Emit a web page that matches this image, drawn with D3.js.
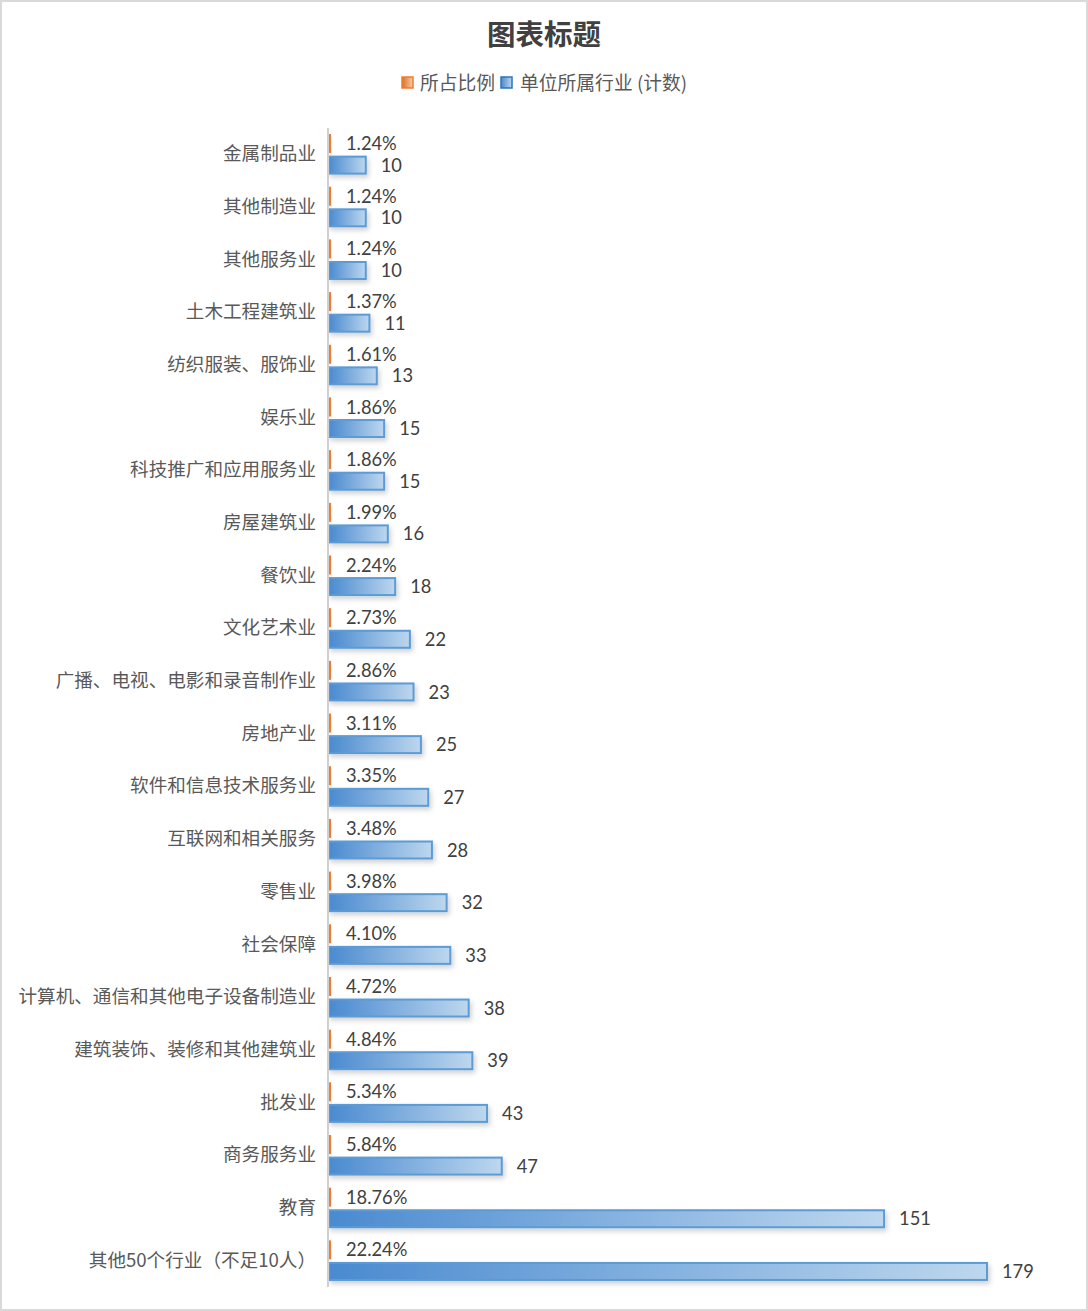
<!DOCTYPE html>
<html><head><meta charset="utf-8">
<script src="https://cdn.jsdelivr.net/npm/d3@7/dist/d3.min.js"></script>
<style>
html,body{margin:0;padding:0;background:#fff;}
svg{display:block;}
</style></head>
<body><div id="chart"></div>
<script>
const categories = ["金属制品业","其他制造业","其他服务业","土木工程建筑业","纺织服装、服饰业","娱乐业","科技推广和应用服务业","房屋建筑业","餐饮业","文化艺术业","广播、电视、电影和录音制作业","房地产业","软件和信息技术服务业","互联网和相关服务","零售业","社会保障","计算机、通信和其他电子设备制造业","建筑装饰、装修和其他建筑业","批发业","商务服务业","教育","其他50个行业（不足10人）"];
const counts = [10,10,10,11,13,15,15,16,18,22,23,25,27,28,32,33,38,39,43,47,151,179];
const shares = [0.0124,0.0124,0.0124,0.0137,0.0161,0.0186,0.0186,0.0199,0.0224,0.0273,0.0286,0.0311,0.0335,0.0348,0.0398,0.0410,0.0472,0.0484,0.0534,0.0584,0.1876,0.2224];
const seriesNames = ["所占比例","单位所属行业 (计数)"];
const title = "图表标题";

const W = 1088, H = 1311;
const svg = d3.select("#chart").append("svg").attr("width", W).attr("height", H);
const defs = svg.append("defs");
const gB = defs.append("linearGradient").attr("id","gB").attr("x1","0").attr("x2","1").attr("y1","0").attr("y2","0");
gB.append("stop").attr("offset","0").attr("stop-color","#4a8ad0");
gB.append("stop").attr("offset","1").attr("stop-color","#bdd7ee");
const gO = defs.append("linearGradient").attr("id","gO").attr("x1","0").attr("x2","1").attr("y1","0").attr("y2","0");
gO.append("stop").attr("offset","0").attr("stop-color","#e0701f");
gO.append("stop").attr("offset","1").attr("stop-color","#f8cbad");
const gBL = defs.append("linearGradient").attr("id","gBL").attr("x1","0").attr("x2","1").attr("y1","0").attr("y2","0");
gBL.append("stop").attr("offset","0").attr("stop-color","#4a8ad0");
gBL.append("stop").attr("offset","1").attr("stop-color","#bdd7ee");
const sh = defs.append("filter").attr("id","sh").attr("x","-10%").attr("y","-40%").attr("width","130%").attr("height","200%");
sh.append("feDropShadow").attr("dx",2).attr("dy",3).attr("stdDeviation",2.5).attr("flood-color","#000").attr("flood-opacity",0.18);

svg.append("rect").attr("x",1).attr("y",1).attr("width",W-2).attr("height",H-2)
  .attr("fill","#fff").attr("stroke","#d9d9d9").attr("stroke-width",2);

svg.append("text").attr("x",544).attr("y",45).attr("text-anchor","middle")
  .attr("font-family","'Noto Sans CJK SC'").attr("font-weight","bold").attr("font-size",28.5)
  .attr("fill","#404040").text(title);

const leg = svg.append("g").attr("font-family","'Noto Sans CJK SC'").attr("font-size",18.8).attr("fill","#595959");
leg.append("rect").attr("x",402).attr("y",77).attr("width",11).attr("height",11).attr("fill","url(#gO)").attr("stroke","#ed7d31").attr("stroke-width",1.5);
leg.append("text").attr("x",420).attr("y",90).text(seriesNames[0]);
leg.append("rect").attr("x",501).attr("y",77).attr("width",11).attr("height",11).attr("fill","url(#gBL)").attr("stroke","#2e75b6").attr("stroke-width",1.5);
leg.append("text").attr("x",520).attr("y",90).text(seriesNames[1]);

const x0 = 329, plotTop = 128, plotBottom = 1287;
const x = d3.scaleLinear().domain([0,179]).range([x0, 987]);
const y = d3.scaleBand().domain(categories).range([plotTop, plotBottom]);
const sub = d3.scaleBand().domain(["p","c"]).range([0, y.bandwidth()]).paddingInner(0.12).paddingOuter(0.28);

const g = svg.append("g");
categories.forEach((c,i)=>{
  const yc = y(c);
  const wO = Math.max(x(shares[i]) - x0, 2);
  g.append("rect").attr("x",x0).attr("y",yc+sub("p")).attr("width",wO).attr("height",sub.bandwidth())
    .attr("fill","#ed7d31").attr("filter","url(#sh)");
  g.append("rect").attr("x",x0).attr("y",yc+sub("c")+1).attr("width",x(counts[i])-x0).attr("height",sub.bandwidth()-2)
    .attr("fill","url(#gB)").attr("stroke","#5b9bd5").attr("stroke-width",2).attr("filter","url(#sh)");
  g.append("text").attr("x",x0+17).attr("y",yc+sub("p")+sub.bandwidth()/2).attr("dy","0.36em")
    .attr("font-family","Lato, 'Open Sans', sans-serif").attr("font-size",18.3).attr("fill","#404040")
    .text((shares[i]*100).toFixed(2)+"%");
  g.append("text").attr("x",x(counts[i])+15).attr("y",yc+sub("c")+sub.bandwidth()/2).attr("dy","0.36em")
    .attr("font-family","Lato, 'Open Sans', sans-serif").attr("font-size",18.3).attr("fill","#404040")
    .text(counts[i]);
});

const yAxis = d3.axisLeft(y).tickSize(0).tickPadding(12);
const ag = svg.append("g").attr("transform",`translate(${x0-1},0)`).call(yAxis);
ag.select(".domain").attr("stroke","#d0d0d0").attr("stroke-width",2).attr("d",`M0,${plotTop}V${plotBottom}`);
ag.selectAll("text").attr("font-family","'Noto Sans CJK SC'").attr("font-size",18.6).attr("fill","#595959").attr("dy","0.32em");
</script>
</body></html>
